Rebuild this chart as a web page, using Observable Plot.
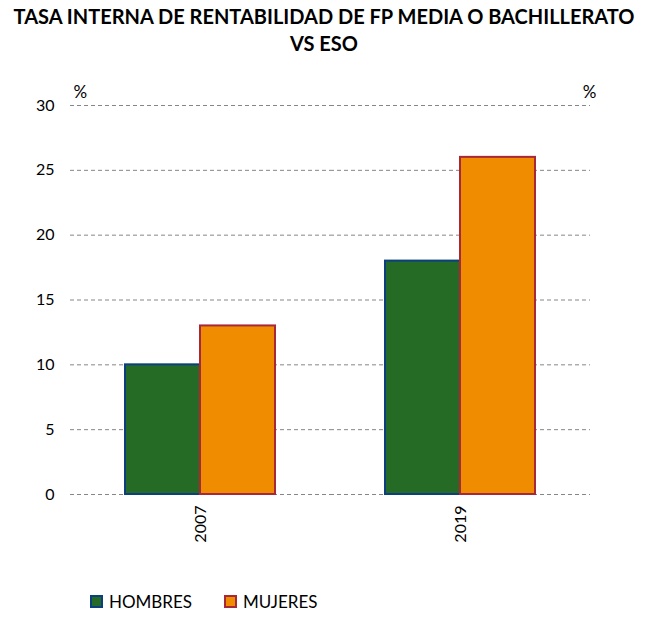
<!DOCTYPE html>
<html><head><meta charset="utf-8">
<script src="https://cdn.jsdelivr.net/npm/d3@7"></script>
<script src="https://cdn.jsdelivr.net/npm/@observablehq/plot@0.6"></script>
<style>
body{margin:0;background:#fff;font-family:Lato, "Open Sans", sans-serif;color:#000;}
#title{width:648px;height:59px;padding-top:3px;box-sizing:content-box;text-align:center;font-weight:bold;font-size:20px;line-height:27px;}
#legend{position:relative;height:70px;font-size:17px;}
.item{position:absolute;top:21px;display:flex;align-items:center;}
.sw{width:9px;height:9px;border:2px solid;margin-right:6px;}
</style></head>
<body>
<div id="title">TASA INTERNA DE RENTABILIDAD DE FP MEDIA O BACHILLERATO<br>VS ESO</div>
<div id="chart"></div>
<div id="legend"></div>
<script>
const years = ["2007", "2019"];
const series = ["HOMBRES", "MUJERES"];
const hombres = [10, 18];
const mujeres = [13, 26];
const yTicks = [0, 5, 10, 15, 20, 25, 30];
const fills = {HOMBRES: "#256B25", MUJERES: "#F08C00"};
const strokes = {HOMBRES: "#0B3F80", MUJERES: "#A8283A"};

const table = [];
years.forEach((y, i) => {
  table.push({year: y, sex: "HOMBRES", value: hombres[i]});
  table.push({year: y, sex: "MUJERES", value: mujeres[i]});
});

const chart = Plot.plot({
  width: 648,
  height: 508,
  marginTop: 43,
  marginBottom: 76,
  marginLeft: 70,
  marginRight: 58,
  style: {fontFamily: "Lato, 'Open Sans', sans-serif", fontSize: "16px", color: "#000", background: "#fff"},
  fx: {domain: years, padding: 0, label: null, tickRotate: -90, tickSize: 0, tickPadding: 11, axis: "bottom"},
  x: {domain: series, paddingInner: 0, paddingOuter: 0.7333, axis: null},
  y: {domain: [0, 30], ticks: yTicks, label: null, axis: null},
  marks: [
    Plot.gridY(yTicks, {stroke: "#868686", strokeOpacity: 1, strokeDasharray: "4,3", strokeWidth: 1}),
    Plot.axisY(yTicks, {anchor: "left", tickSize: 0, tickPadding: 16, label: null, fontSize: 16}),
    Plot.barY(table.filter(d => d.sex === "HOMBRES"), {fx: "year", x: "sex", y: "value", fill: fills.HOMBRES, stroke: strokes.HOMBRES, strokeWidth: 2}),
    Plot.barY(table.filter(d => d.sex === "MUJERES"), {fx: "year", x: "sex", y: "value", fill: fills.MUJERES, stroke: strokes.MUJERES, strokeWidth: 2}),
    Plot.text([{year: years[0], t: "%"}], {fx: "year", text: "t", frameAnchor: "top-left", dx: 3, dy: -20, fontSize: 17}),
    Plot.text([{year: years[1], t: "%"}], {fx: "year", text: "t", frameAnchor: "top-right", dx: 6, dy: -20, fontSize: 17})
  ]
});
document.getElementById("chart").appendChild(chart);

const legend = document.getElementById("legend");
const lefts = [90, 224];
series.forEach((s, i) => {
  const it = document.createElement("div");
  it.className = "item";
  it.style.left = lefts[i] + "px";
  const sw = document.createElement("span");
  sw.className = "sw";
  sw.style.background = fills[s];
  sw.style.borderColor = strokes[s];
  const tx = document.createElement("span");
  tx.textContent = s;
  it.appendChild(sw); it.appendChild(tx);
  legend.appendChild(it);
});
</script>
</body></html>
